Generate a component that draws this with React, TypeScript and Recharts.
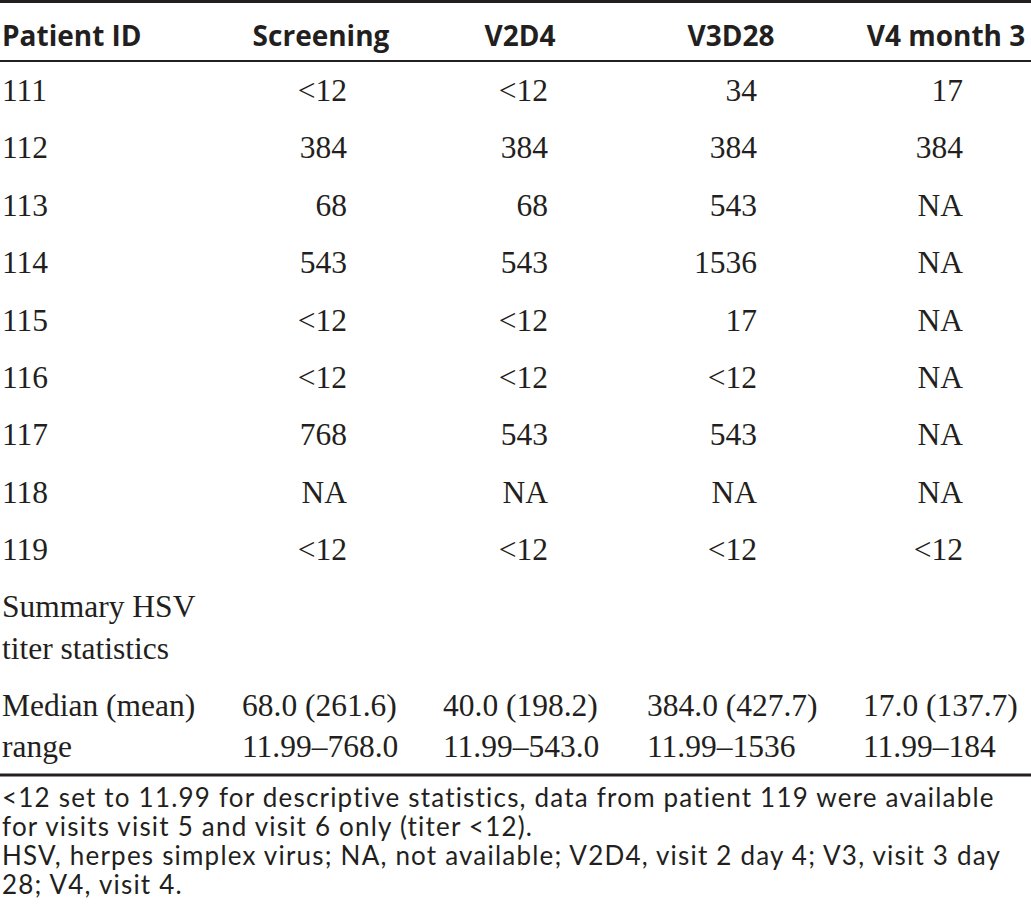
import React from 'react';
import { ComposedChart, XAxis, YAxis, Scatter, ReferenceLine } from 'recharts';

// ---------- data ----------
const headers = ['Patient ID', 'Screening', 'V2D4', 'V3D28', 'V4 month 3'];
const patientIds = ['111', '112', '113', '114', '115', '116', '117', '118', '119'];
const screening = ['<12', '384', '68', '543', '<12', '<12', '768', 'NA', '<12'];
const v2d4 = ['<12', '384', '68', '543', '<12', '<12', '543', 'NA', '<12'];
const v3d28 = ['34', '384', '543', '1536', '17', '<12', '543', 'NA', '<12'];
const v4month3 = ['17', '384', 'NA', 'NA', 'NA', 'NA', 'NA', 'NA', '<12'];
const summaryTitle = ['Summary HSV', 'titer statistics'];
const statLabels = ['Median (mean)', 'range'];
const medianMean = ['68.0 (261.6)', '40.0 (198.2)', '384.0 (427.7)', '17.0 (137.7)'];
const ranges = ['11.99\u2013768.0', '11.99\u2013543.0', '11.99\u20131536', '11.99\u2013184'];
const footnotes = [
  '<12 set to 11.99 for descriptive statistics, data from patient 119 were available',
  'for visits visit 5 and visit 6 only (titer <12).',
  'HSV, herpes simplex virus; NA, not available; V2D4, visit 2 day 4; V3, visit 3 day',
  '28; V4, visit 4.',
];

// ---------- layout ----------
const W = 1031;
const H = 923;
const LEFT_X = 2;
const HEADER_Y = 46;
const ROW_Y0 = 101;
const ROW_STEP = 57.4;
const COL_RIGHT = [347, 548, 757, 963];
const HEAD_CENTER = [321, 520, 731, 946];
const SUM_LEFT = [242, 443, 647, 863];
const SUMMARY_TITLE_Y = [617, 659];
const STAT_Y = [716, 757];
const FOOT_Y = [807, 836, 865, 894];

const INK = '#231f20';
const SERIF = "'Liberation Serif', 'Times New Roman', serif";
const SANS = "'Open Sans', 'Noto Sans', sans-serif";
const FOOT = "Lato, 'Noto Sans', sans-serif";

const columns = [screening, v2d4, v3d28, v4month3];

const textShape = (
  anchor: string,
  family: string,
  size: number,
  weight: number | string = 400,
  spacing = 0
) =>
  (props: any) => (
    <text
      x={props.cx}
      y={props.cy}
      textAnchor={anchor}
      fontFamily={family}
      fontSize={size}
      fontWeight={weight}
      letterSpacing={spacing}
      fill={INK}
    >
      {props.payload.text}
    </text>
  );

const headLeft = [{ x: LEFT_X, y: HEADER_Y, text: headers[0] }];
const headCenter = headers.slice(1).map((t, i) => ({ x: HEAD_CENTER[i], y: HEADER_Y, text: t }));
const idCells = patientIds.map((t, i) => ({ x: LEFT_X, y: ROW_Y0 + i * ROW_STEP, text: t }));
const valueCells = columns.flatMap((col, j) =>
  col.map((t, i) => ({ x: COL_RIGHT[j], y: ROW_Y0 + i * ROW_STEP, text: t }))
);
const summaryCells = [
  ...summaryTitle.map((t, i) => ({ x: LEFT_X, y: SUMMARY_TITLE_Y[i], text: t })),
  ...statLabels.map((t, i) => ({ x: LEFT_X, y: STAT_Y[i], text: t })),
];
const statCells = [
  ...medianMean.map((t, j) => ({ x: SUM_LEFT[j], y: STAT_Y[0], text: t })),
  ...ranges.map((t, j) => ({ x: SUM_LEFT[j], y: STAT_Y[1], text: t })),
];
const footCells = footnotes.map((t, i) => ({ x: LEFT_X, y: FOOT_Y[i], text: t }));

export default function App() {
  return (
    <div style={{ position: 'absolute', left: 0, top: 0, width: W, height: H, background: '#fff' }}>
      <ComposedChart width={W} height={H} margin={{ top: 0, right: 0, bottom: 0, left: 0 }}>
        <XAxis type="number" dataKey="x" domain={[0, W]} hide allowDataOverflow />
        <YAxis type="number" dataKey="y" domain={[0, H]} reversed hide allowDataOverflow />
        <ReferenceLine y={1.5} stroke={INK} strokeWidth={3} />
        <ReferenceLine y={61} stroke={INK} strokeWidth={2} />
        <ReferenceLine y={775} stroke={INK} strokeWidth={3} />
        <Scatter data={headLeft} shape={textShape('start', SANS, 28, 700)} isAnimationActive={false} />
        <Scatter data={headCenter} shape={textShape('middle', SANS, 28, 700)} isAnimationActive={false} />
        <Scatter data={idCells} shape={textShape('start', SERIF, 31.5)} isAnimationActive={false} />
        <Scatter data={valueCells} shape={textShape('end', SERIF, 31.5)} isAnimationActive={false} />
        <Scatter data={summaryCells} shape={textShape('start', SERIF, 31.5)} isAnimationActive={false} />
        <Scatter data={statCells} shape={textShape('start', SERIF, 31.5)} isAnimationActive={false} />
        <Scatter data={footCells} shape={textShape('start', FOOT, 26, 400, 1.2)} isAnimationActive={false} />
      </ComposedChart>
    </div>
  );
}
